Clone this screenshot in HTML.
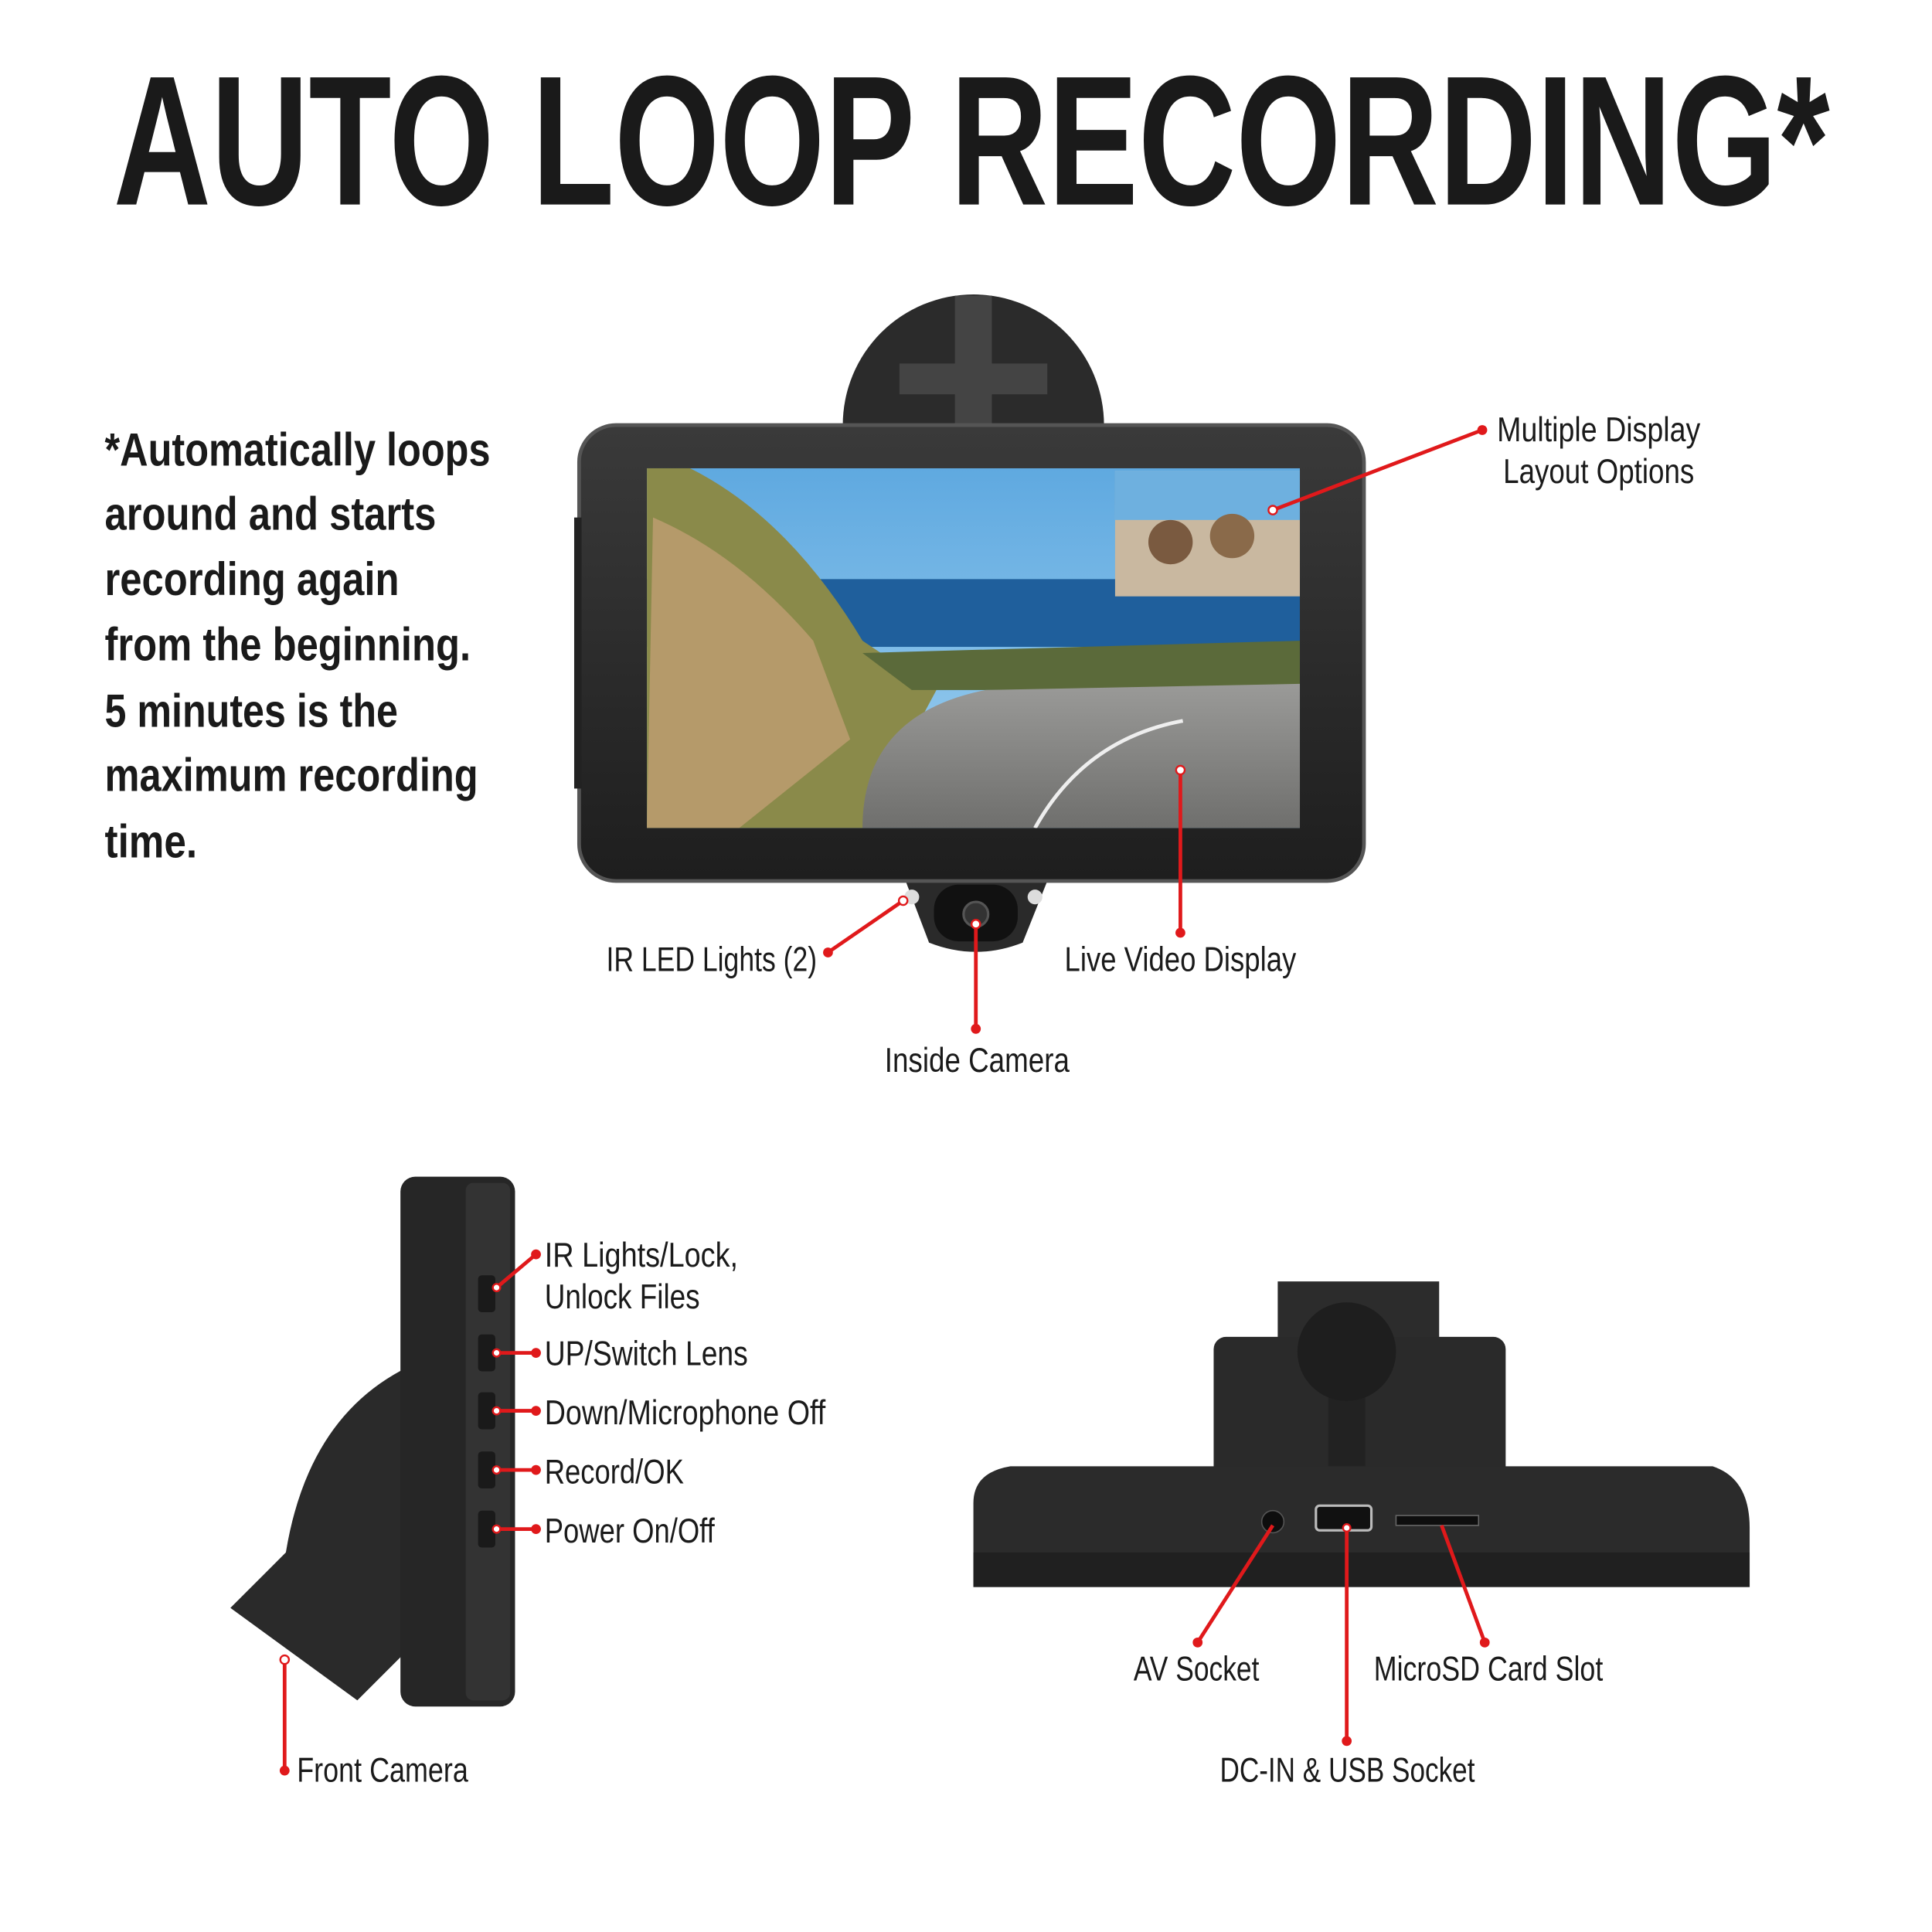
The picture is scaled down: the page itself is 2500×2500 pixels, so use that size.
<!DOCTYPE html>
<html><head><meta charset="utf-8"><style>
html,body{margin:0;padding:0;background:#fff;width:2500px;height:2500px;overflow:hidden}
svg{display:block}
.t{font-family:"Liberation Sans Narrow","Liberation Sans",sans-serif;fill:#1a1a1a}
</style></head><body>
<svg width="2500" height="2500" viewBox="0 0 1568 1568" xmlns="http://www.w3.org/2000/svg">
<defs>
<linearGradient id="sky" x1="0" y1="0" x2="0" y2="1"><stop offset="0" stop-color="#5fa9e0"/><stop offset="1" stop-color="#9fd0f0"/></linearGradient>
<linearGradient id="road" x1="0" y1="0" x2="0" y2="1"><stop offset="0" stop-color="#9a9a98"/><stop offset="1" stop-color="#6f6f6d"/></linearGradient>
<linearGradient id="body" x1="0" y1="0" x2="0" y2="1"><stop offset="0" stop-color="#3a3a3a"/><stop offset="1" stop-color="#1e1e1e"/></linearGradient>
<clipPath id="scr"><rect x="525" y="380" width="530" height="292"/></clipPath>
</defs>
<text class="t" x="92" y="166" font-size="150" font-weight="bold" textLength="1393" lengthAdjust="spacingAndGlyphs" style="font-family:'Liberation Sans',sans-serif" fill="#111">AUTO LOOP RECORDING*</text>

<g class="t" font-size="38" font-weight="bold">
<text x="85" y="378" textLength="313" lengthAdjust="spacingAndGlyphs">*Automatically loops</text>
<text x="85" y="430" textLength="269" lengthAdjust="spacingAndGlyphs">around and starts</text>
<text x="85" y="483" textLength="239" lengthAdjust="spacingAndGlyphs">recording again</text>
<text x="85" y="536" textLength="297" lengthAdjust="spacingAndGlyphs">from the beginning.</text>
<text x="85" y="590" textLength="238" lengthAdjust="spacingAndGlyphs">5 minutes is the</text>
<text x="85" y="642" textLength="303" lengthAdjust="spacingAndGlyphs">maximum recording</text>
<text x="85" y="696" textLength="75" lengthAdjust="spacingAndGlyphs">time.</text>
</g>

<!-- front device -->
<path d="M684 345 A106 106 0 0 1 896 345 Z" fill="#2b2b2b"/>
<path d="M775 240 h30 v55 h45 v25 h-45 v25 h-30 v-25 h-45 v-25 h45z" fill="#444"/>
<path d="M735 715 L850 715 L830 765 Q792 780 754 765 Z" fill="#2a2a2a"/>
<rect x="758" y="718" width="68" height="46" rx="20" fill="#111"/>
<circle cx="792" cy="742" r="10" fill="#333" stroke="#555" stroke-width="2"/>
<circle cx="740" cy="728" r="6" fill="#ddd"/><circle cx="840" cy="728" r="6" fill="#ddd"/>
<rect x="470" y="345" width="637" height="370" rx="30" fill="url(#body)" stroke="#555" stroke-width="3"/>
<rect x="466" y="420" width="6" height="220" fill="#222"/>
<g clip-path="url(#scr)">
<rect x="525" y="380" width="530" height="292" fill="url(#sky)"/>
<rect x="525" y="470" width="530" height="55" fill="#1f5f9c"/>
<path d="M525 380 L560 380 Q640 420 700 520 L760 560 L700 672 L525 672 Z" fill="#8a8a4a"/>
<path d="M530 420 Q600 450 660 520 L690 600 L600 672 L525 672 Z" fill="#b59a6a"/>
<path d="M700 530 L1055 520 L1055 560 L740 560 Z" fill="#5b6a3a"/>
<path d="M700 672 Q700 580 800 560 L1055 555 L1055 672 Z" fill="url(#road)"/>
<path d="M840 672 Q880 600 960 585" stroke="#eee" stroke-width="3" fill="none"/>
<rect x="905" y="382" width="150" height="102" fill="#c9b8a0"/>
<rect x="905" y="382" width="150" height="40" fill="#6eb0df"/>
<circle cx="950" cy="440" r="18" fill="#7a5a40"/><circle cx="1000" cy="435" r="18" fill="#8a6a4a"/>
</g>

<!-- side device -->
<path d="M330 1110 Q250 1150 232 1260 L187 1305 L290 1380 L330 1340 L405 1340 L405 1110 Z" fill="#2a2a2a"/>
<rect x="325" y="955" width="93" height="430" rx="12" fill="#262626"/>
<rect x="378" y="960" width="36" height="420" rx="6" fill="#333"/>
<g fill="#1a1a1a">
<rect x="388" y="1035" width="14" height="30" rx="3"/><rect x="388" y="1083" width="14" height="30" rx="3"/><rect x="388" y="1130" width="14" height="30" rx="3"/><rect x="388" y="1178" width="14" height="30" rx="3"/><rect x="388" y="1226" width="14" height="30" rx="3"/>
</g>

<!-- bottom device -->
<rect x="1037" y="1040" width="131" height="60" fill="#2c2c2c"/>
<rect x="985" y="1085" width="237" height="115" rx="10" fill="#2a2a2a"/>
<rect x="1078" y="1110" width="30" height="80" fill="#222"/>
<circle cx="1093" cy="1097" r="40" fill="#1e1e1e"/>
<path d="M790 1220 Q790 1195 820 1190 L1390 1190 Q1420 1200 1420 1240 L1420 1288 L790 1288 Z" fill="#2b2b2b"/>
<rect x="790" y="1260" width="630" height="28" fill="#202020"/>
<circle cx="1033" cy="1235" r="9" fill="#0e0e0e" stroke="#555"/>
<rect x="1068" y="1222" width="45" height="20" rx="3" fill="#111" stroke="#bbb" stroke-width="2"/>
<rect x="1133" y="1230" width="67" height="8" fill="#0e0e0e" stroke="#666"/>

<!-- connectors -->
<g stroke="#e0191b" stroke-width="3" fill="none">
<line x1="1033" y1="414" x2="1203" y2="349"/>
<line x1="958" y1="625" x2="958" y2="757"/>
<line x1="733" y1="731" x2="672" y2="773"/>
<line x1="792" y1="750" x2="792" y2="835"/>
<line x1="403" y1="1045" x2="435" y2="1018"/>
<line x1="403" y1="1098" x2="435" y2="1098"/>
<line x1="403" y1="1145" x2="435" y2="1145"/>
<line x1="403" y1="1193" x2="435" y2="1193"/>
<line x1="403" y1="1241" x2="435" y2="1241"/>
<line x1="231" y1="1347" x2="231" y2="1437"/>
<line x1="1033" y1="1238" x2="972" y2="1333"/>
<line x1="1093" y1="1240" x2="1093" y2="1413"/>
<line x1="1170" y1="1238" x2="1205" y2="1333"/>
</g>
<g fill="#e0191b">
<circle cx="1203" cy="349" r="4"/><circle cx="958" cy="757" r="4"/><circle cx="672" cy="773" r="4"/><circle cx="792" cy="835" r="4"/>
<circle cx="435" cy="1018" r="4"/><circle cx="435" cy="1098" r="4"/><circle cx="435" cy="1145" r="4"/><circle cx="435" cy="1193" r="4"/><circle cx="435" cy="1241" r="4"/>
<circle cx="231" cy="1437" r="4"/><circle cx="972" cy="1333" r="4"/><circle cx="1093" cy="1413" r="4"/><circle cx="1205" cy="1333" r="4"/>
</g>
<g fill="#fff" stroke="#e0191b" stroke-width="1.5">
<circle cx="1033" cy="414" r="3.5"/><circle cx="958" cy="625" r="3.5"/><circle cx="733" cy="731" r="3.5"/><circle cx="792" cy="750" r="3.5"/><circle cx="231" cy="1347" r="3.5"/><circle cx="403" cy="1045" r="3"/><circle cx="403" cy="1098" r="3"/><circle cx="403" cy="1145" r="3"/><circle cx="403" cy="1193" r="3"/><circle cx="403" cy="1241" r="3"/><circle cx="1093" cy="1240" r="3"/>
</g>

<g class="t" font-size="28">
<text x="1215" y="358" textLength="165" lengthAdjust="spacingAndGlyphs">Multiple Display</text>
<text x="1220" y="392" textLength="155" lengthAdjust="spacingAndGlyphs">Layout Options</text>
<text x="864" y="788" textLength="188" lengthAdjust="spacingAndGlyphs">Live Video Display</text>
<text x="492" y="788" textLength="171" lengthAdjust="spacingAndGlyphs">IR LED Lights (2)</text>
<text x="718" y="870" textLength="150" lengthAdjust="spacingAndGlyphs">Inside Camera</text>
<text x="442" y="1028" textLength="157" lengthAdjust="spacingAndGlyphs">IR Lights/Lock,</text>
<text x="442" y="1062" textLength="126" lengthAdjust="spacingAndGlyphs">Unlock Files</text>
<text x="442" y="1108" textLength="165" lengthAdjust="spacingAndGlyphs">UP/Switch Lens</text>
<text x="442" y="1156" textLength="228" lengthAdjust="spacingAndGlyphs">Down/Microphone Off</text>
<text x="442" y="1204" textLength="113" lengthAdjust="spacingAndGlyphs">Record/OK</text>
<text x="442" y="1252" textLength="138" lengthAdjust="spacingAndGlyphs">Power On/Off</text>
<text x="241" y="1446" textLength="139" lengthAdjust="spacingAndGlyphs">Front Camera</text>
<text x="920" y="1364" textLength="102" lengthAdjust="spacingAndGlyphs">AV Socket</text>
<text x="1115" y="1364" textLength="186" lengthAdjust="spacingAndGlyphs">MicroSD Card Slot</text>
<text x="990" y="1446" textLength="207" lengthAdjust="spacingAndGlyphs">DC-IN &amp; USB Socket</text>
</g>
</svg>
</body></html>
